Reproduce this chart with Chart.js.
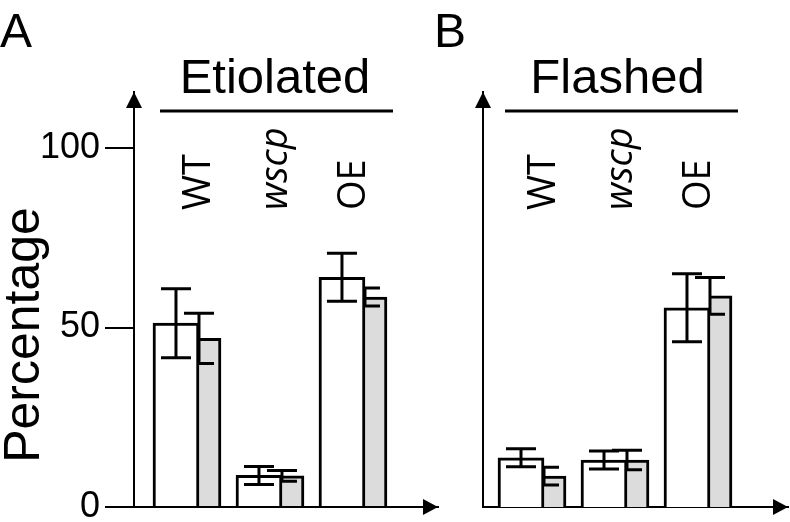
<!DOCTYPE html>
<html>
<head>
<meta charset="utf-8">
<script src="https://cdn.jsdelivr.net/npm/chart.js@4.4.1/dist/chart.umd.min.js"></script>
<style>
  body { margin: 0; background: #fff; }
  #wrap { position: relative; width: 790px; height: 522px; overflow: hidden; }
  canvas { position: absolute; top: 0; }
  #chartA { left: 0; }
  #chartB { left: 430px; }
</style>
</head>
<body>
<div id="wrap">
  <canvas id="chartA" width="445" height="522"></canvas>
  <canvas id="chartB" width="360" height="522"></canvas>
</div>
<script>
// --- Data ---
const categories = ['WT', 'wscp', 'OE'];
const yTicks = [0, 50, 100];

const etiolatedWhite = [51.2, 8.8, 64.0];
const etiolatedWhiteErr = [9.6, 2.5, 6.7];
const etiolatedGray = [47.0, 8.7, 58.5];
const etiolatedGrayErr = [7.0, 1.5, 2.5];

const flashedWhite = [13.7, 13.1, 55.5];
const flashedWhiteErr = [2.5, 2.5, 9.5];
const flashedGray = [8.6, 13.1, 58.8];
const flashedGrayErr = [2.5, 2.7, 5.1];

Chart.defaults.font.family = '"Liberation Sans", Arial, sans-serif';
Chart.defaults.color = '#000';

// error bars: white ones on the bar centre, grey ones on the grey bar's left edge
const errorBars = {
  id: 'errorBars',
  afterDatasetDraw(chart, args) {
    const ds = chart.data.datasets[args.index];
    const y = chart.scales.y;
    const ctx = chart.ctx;
    ctx.save();
    ctx.strokeStyle = '#000';
    ctx.lineWidth = 3;
    args.meta.data.forEach((bar, i) => {
      const v = ds.data[i].y;
      const x = args.index === 0 ? bar.x : bar.x - bar.width / 2;
      const top = y.getPixelForValue(v + ds.errors[i]);
      const bot = y.getPixelForValue(v - ds.errors[i]);
      ctx.beginPath();
      ctx.moveTo(x, top); ctx.lineTo(x, bot);
      ctx.moveTo(x - 15, top); ctx.lineTo(x + 15, top);
      ctx.moveTo(x - 15, bot); ctx.lineTo(x + 15, bot);
      ctx.stroke();
    });
    ctx.restore();
  }
};

// arrows, headers, panel letters, rotated genotype labels
const decorations = {
  id: 'decorations',
  afterDraw(chart, args, o) {
    const ctx = chart.ctx;
    const area = chart.chartArea;
    const xs = chart.scales.x;
    ctx.save();
    ctx.fillStyle = '#000';
    ctx.strokeStyle = '#000';

    // axis arrowheads
    ctx.beginPath();
    ctx.moveTo(area.left, area.top);
    ctx.lineTo(area.left - 8, area.top + 16);
    ctx.lineTo(area.left + 8, area.top + 16);
    ctx.closePath();
    ctx.fill();
    ctx.beginPath();
    ctx.moveTo(area.right, area.bottom);
    ctx.lineTo(area.right - 15, area.bottom - 8);
    ctx.lineTo(area.right - 15, area.bottom + 8);
    ctx.closePath();
    ctx.fill();

    // panel letter
    ctx.font = '48px "Liberation Sans", Arial, sans-serif';
    ctx.textAlign = 'left';
    ctx.textBaseline = 'alphabetic';
    ctx.fillText(o.letter, o.letterX, 47);

    // header with rule
    ctx.font = '49px "Liberation Sans", Arial, sans-serif';
    ctx.textAlign = 'center';
    ctx.fillText(o.header, o.headerX, 93);
    ctx.lineWidth = 3;
    ctx.beginPath();
    ctx.moveTo(o.ruleFrom, 111);
    ctx.lineTo(o.ruleTo, 111);
    ctx.stroke();

    // genotype labels, rotated (set a little tighter than the bars)
    categories.forEach((c, i) => {
      ctx.save();
      ctx.translate(xs.getPixelForValue(i) + 11 - 5.5 * i, 210);
      ctx.rotate(-Math.PI / 2);
      ctx.font = (i === 1 ? 'italic ' : '') + '38px "Open Sans", sans-serif';
      ctx.textAlign = 'left';
      ctx.textBaseline = 'alphabetic';
      ctx.fillText(c, 0, 0);
      ctx.restore();
    });

    // y title
    if (o.yTitle) {
      ctx.save();
      ctx.translate(25, 335);
      ctx.rotate(-Math.PI / 2);
      ctx.font = '50px "Liberation Sans", Arial, sans-serif';
      ctx.textAlign = 'center';
      ctx.textBaseline = 'middle';
      ctx.fillText(o.yTitle, 0, 0);
      ctx.restore();
    }
    ctx.restore();
  }
};

function makePanel(id, white, whiteErr, gray, grayErr, p) {
  return new Chart(document.getElementById(id), {
    type: 'bar',
    data: {
      datasets: [
        {
          data: white.map((v, i) => ({ x: i, y: v })),
          errors: whiteErr,
          backgroundColor: '#ffffff',
          borderColor: '#000',
          borderWidth: { top: 3, left: 3, right: 3, bottom: 0 },
          barThickness: 46
        },
        {
          data: gray.map((v, i) => ({ x: i, y: v })),
          errors: grayErr,
          backgroundColor: '#dcdcdc',
          borderColor: '#000',
          borderWidth: { top: 3, left: 0, right: 3, bottom: 0 },
          barThickness: 22
        }
      ]
    },
    options: {
      responsive: false,
      animation: false,
      layout: { autoPadding: false, padding: { top: 92, right: p.padRight, left: 0, bottom: 0 } },
      plugins: {
        legend: { display: false },
        tooltip: { enabled: false },
        decorations: p.deco
      },
      scales: {
        x: {
          type: 'linear',
          offset: false,
          min: p.xMin,
          max: p.xMax,
          afterFit(s) { s.height = 15; },
          grid: { display: false },
          ticks: { display: false },
          border: { display: true, color: '#000', width: 2 }
        },
        y: {
          min: 0,
          max: 115.6,
          afterFit(s) { s.width = p.yWidth; s.paddingTop = 0; s.paddingBottom = 0; },
          afterBuildTicks(s) { s.ticks = yTicks.map(v => ({ value: v })); },
          ticks: { display: p.showTicks, padding: 5, font: { size: 36 }, color: '#000' },
          grid: { display: p.showTicks, drawOnChartArea: false, tickLength: 29, color: '#000', lineWidth: 2 },
          border: { display: true, color: '#000', width: 2 }
        }
      }
    },
    plugins: [errorBars, decorations]
  });
}

makePanel('chartA', etiolatedWhite, etiolatedWhiteErr, etiolatedGray, etiolatedGrayErr, {
  padRight: 7, xMin: -0.783, xMax: 2.88, yWidth: 134, showTicks: true,
  deco: { letter: 'A', letterX: 0, header: 'Etiolated', headerX: 275, ruleFrom: 160, ruleTo: 393, yTitle: 'Percentage' }
});

makePanel('chartB', flashedWhite, flashedWhiteErr, flashedGray, flashedGrayErr, {
  padRight: 2, xMin: -0.735, xMax: 2.94, yWidth: 53, showTicks: false,
  deco: { letter: 'B', letterX: 4, header: 'Flashed', headerX: 187.5, ruleFrom: 75, ruleTo: 308, yTitle: null }
});
</script>
</body>
</html>
